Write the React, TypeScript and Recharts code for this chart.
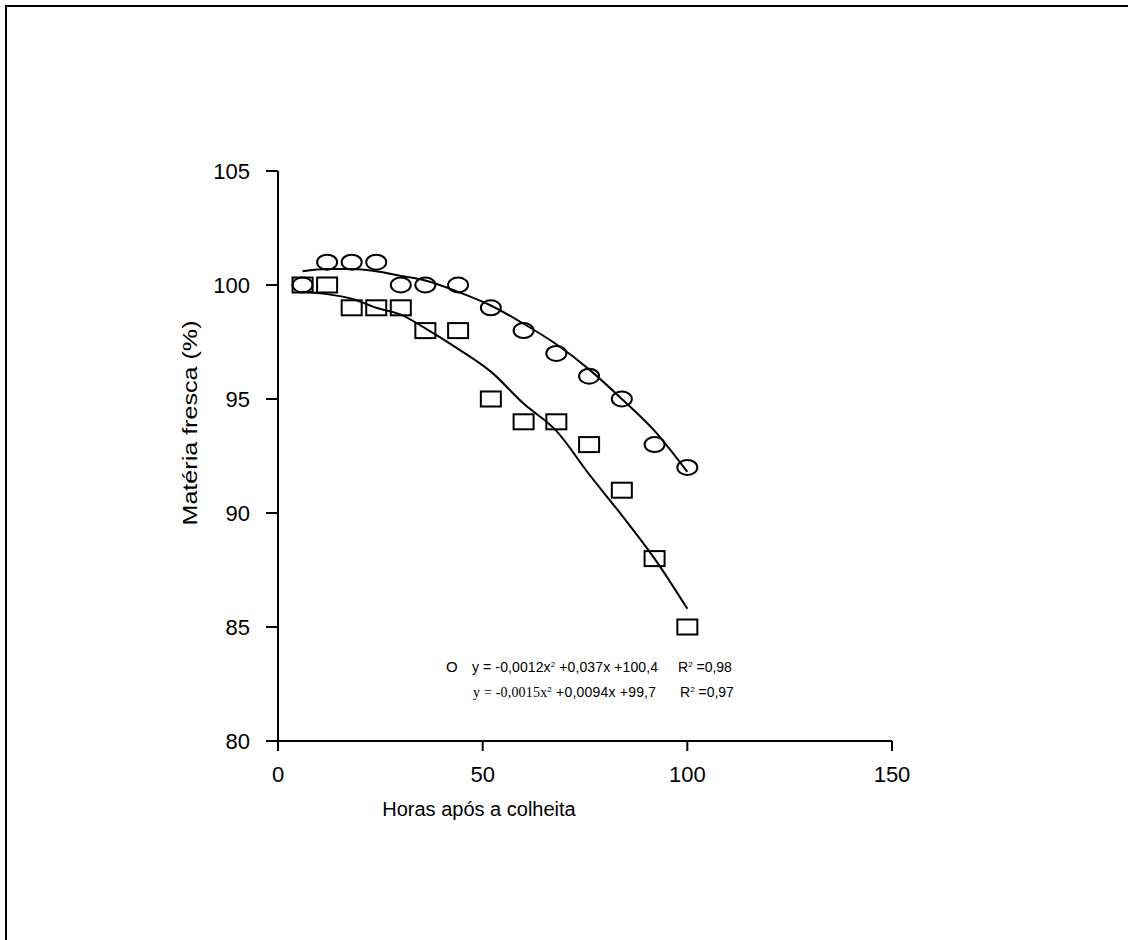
import {
  ComposedChart,
  Customized,
  Label,
  Line,
  Scatter,
  XAxis,
  YAxis,
} from "recharts";

const HOURS = [6, 12, 18, 24, 30, 36, 44, 52, 60, 68, 76, 84, 92, 100];
const CIRCLE_VALUES = [100, 101, 101, 101, 100, 100, 100, 99, 98, 97, 96, 95, 93, 92];
const SQUARE_VALUES = [100, 100, 99, 99, 99, 98, 98, 95, 94, 94, 93, 91, 88, 85];
// trend lines
const CIRCLE_TREND = [100.6, 100.7, 100.7, 100.6, 100.4, 100.2, 99.7, 99.1, 98.3, 97.4, 96.3, 95.0, 93.6, 91.8];
const SQUARE_TREND = [99.7, 99.6, 99.4, 99.0, 98.7, 98.1, 97.2, 96.2, 94.8, 93.6, 91.7, 89.9, 88.0, 85.8];

const X_TICKS = [0, 50, 100, 150];
const Y_TICKS = [80, 85, 90, 95, 100, 105];

const data = HOURS.map((h, i) => ({
  x: h,
  circle: CIRCLE_VALUES[i],
  square: SQUARE_VALUES[i],
  circleTrend: CIRCLE_TREND[i],
  squareTrend: SQUARE_TREND[i],
}));

const FONT = "'Liberation Sans', Arial, sans-serif";

function CircleMark(props: any) {
  const { cx, cy } = props;
  if (cx == null || cy == null) return null;
  return <ellipse cx={cx} cy={cy} rx={10} ry={7.5} fill="none" stroke="#000" strokeWidth={2} />;
}

function SquareMark(props: any) {
  const { cx, cy } = props;
  if (cx == null || cy == null) return null;
  return <rect x={cx - 10} y={cy - 7.5} width={20} height={15} fill="none" stroke="#000" strokeWidth={2} />;
}

function Equations() {
  return (
    <g fontFamily={FONT} fill="#000" fontSize={14}>
      <text x={446} y={672} fontSize={15}>O</text>
      <text x={472} y={672} textLength={186} lengthAdjust="spacing">
        <tspan>y = -0,0012x</tspan>
        <tspan fontSize={8} dy={-5}>2</tspan>
        <tspan dy={5}> +0,037x +100,4</tspan>
      </text>
      <text x={678} y={672}>
        <tspan>R</tspan>
        <tspan fontSize={8} dy={-5}>2</tspan>
        <tspan dy={5}> =0,98</tspan>
      </text>
      <text x={473} y={697} textLength={183} lengthAdjust="spacing">
        <tspan fontFamily="'Liberation Serif', serif">y = -0,0015x</tspan>
        <tspan fontSize={8} dy={-5}>2</tspan>
        <tspan dy={5}> +0,0094x +99,7</tspan>
      </text>
      <text x={680} y={697}>
        <tspan>R</tspan>
        <tspan fontSize={8} dy={-5}>2</tspan>
        <tspan dy={5}> =0,97</tspan>
      </text>
    </g>
  );
}

const axisTick = { fill: "#000", fontSize: 22, fontFamily: FONT };

export default function App() {
  return (
    <div style={{ position: "absolute", left: 0, top: 0, width: 1128, height: 940, background: "#fff" }}>
      <div
        style={{
          position: "absolute",
          left: 5,
          top: 5,
          right: 0,
          bottom: 0,
          borderTop: "2px solid #000",
          borderLeft: "2px solid #000",
        }}
      />
      <div style={{ position: "absolute", left: 0, top: 0 }}>
        <ComposedChart
          width={1128}
          height={940}
          data={data}
          margin={{ top: 171, right: 236, bottom: 169, left: 218 }}
        >
          <XAxis
            type="number"
            dataKey="x"
            domain={[0, 150]}
            ticks={X_TICKS}
            height={30}
            tickSize={10}
            tickMargin={15}
            tick={axisTick}
            axisLine={{ stroke: "#000", strokeWidth: 2 }}
            tickLine={{ stroke: "#000", strokeWidth: 2 }}
          >
            <Label
              content={() => (
                <text x={479} y={816} textAnchor="middle" fontSize={20} fontFamily={FONT} fill="#000">
                  Horas após a colheita
                </text>
              )}
            />
          </XAxis>
          <YAxis
            type="number"
            domain={[80, 105]}
            ticks={Y_TICKS}
            width={60}
            tickSize={12}
            tickMargin={16}
            tick={axisTick}
            axisLine={{ stroke: "#000", strokeWidth: 2 }}
            tickLine={{ stroke: "#000", strokeWidth: 2 }}
          >
            <Label
              content={() => (
                <text
                  x={189}
                  y={423}
                  transform="rotate(-90 189 423)"
                  textAnchor="middle"
                  dominantBaseline="central"
                  fontSize={21}
                  fontFamily={FONT}
                  fill="#000"
                  textLength={205}
                  lengthAdjust="spacingAndGlyphs"
                >
                  Matéria fresca (%)
                </text>
              )}
            />
          </YAxis>
          <Line
            type="monotone"
            dataKey="circleTrend"
            stroke="#000"
            strokeWidth={2}
            dot={false}
            activeDot={false}
            isAnimationActive={false}
          />
          <Line
            type="monotone"
            dataKey="squareTrend"
            stroke="#000"
            strokeWidth={2}
            dot={false}
            activeDot={false}
            isAnimationActive={false}
          />
          <Scatter dataKey="circle" shape={CircleMark} isAnimationActive={false} />
          <Scatter dataKey="square" shape={SquareMark} isAnimationActive={false} />
          <Customized component={Equations} />
        </ComposedChart>
      </div>
    </div>
  );
}
